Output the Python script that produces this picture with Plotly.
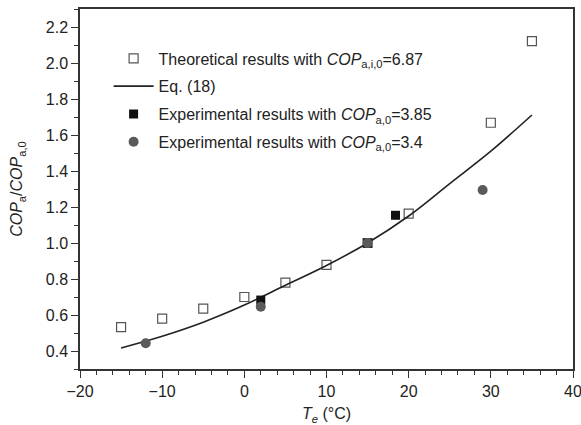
import plotly.graph_objects as go

# Theoretical results (COP_a,i,0 = 6.87)
theo_x = [-15, -10, -5, 0, 5, 10, 15, 20, 30, 35]
theo_y = [0.533, 0.58, 0.635, 0.70, 0.78, 0.878, 1.0, 1.163, 1.668, 2.122]

# Eq. (18) curve
eq_x = [-15, -10, -5, 0, 5, 10, 15, 20, 25, 30, 35]
eq_y = [0.417, 0.482, 0.560, 0.655, 0.765, 0.875, 1.000, 1.150, 1.330, 1.510, 1.711]

# Experimental results (COP_a,0 = 3.85)
exp1_x = [2, 15, 18.4]
exp1_y = [0.683, 1.0, 1.154]

# Experimental results (COP_a,0 = 3.4)
exp2_x = [-12, 2, 15, 29]
exp2_y = [0.443, 0.646, 1.0, 1.294]

x_ticks = [-20, -10, 0, 10, 20, 30, 40]
y_ticks = [0.4, 0.6, 0.8, 1.0, 1.2, 1.4, 1.6, 1.8, 2.0, 2.2]

FONT = "Liberation Sans, Arial, sans-serif"

fig = go.Figure()
fig.add_trace(go.Scatter(
    x=theo_x, y=theo_y, mode="markers", legendgroup="a",
    name="Theoretical results with <i>COP</i><sub>a,i,0</sub>=6.87",
    marker=dict(symbol="square-open", size=9, color="#555555", line=dict(width=1.2)),
))
fig.add_trace(go.Scatter(
    x=eq_x, y=eq_y, mode="lines", legendgroup="b", name="Eq. (18)",
    line=dict(color="#222222", width=1.6, shape="spline"),
))
fig.add_trace(go.Scatter(
    x=exp1_x, y=exp1_y, mode="markers", legendgroup="c",
    name="Experimental results with <i>COP</i><sub>a,0</sub>=3.85",
    marker=dict(symbol="square", size=9, color="#111111"),
))
fig.add_trace(go.Scatter(
    x=exp2_x, y=exp2_y, mode="markers", legendgroup="d",
    name="Experimental results with <i>COP</i><sub>a,0</sub>=3.4",
    marker=dict(symbol="circle", size=10, color="#5a5a5a"),
))

axis_common = dict(
    showline=True, linecolor="#333333", linewidth=1.5, mirror=True,
    ticks="outside", ticklen=7, tickwidth=1.2, tickcolor="#333333",
    showgrid=False, zeroline=False, ticklabeloverflow="allow",
    tickfont=dict(family=FONT, size=16, color="#222222"),
)

fig.update_layout(
    width=581, height=425,
    margin=dict(l=80, r=8, t=9, b=56, autoexpand=False),
    paper_bgcolor="white", plot_bgcolor="white",
    font=dict(family=FONT, size=16, color="#222222"),
    showlegend=True,
    legend=dict(
        x=0.058, y=0.91, xanchor="left", yanchor="top",
        bgcolor="rgba(0,0,0,0)", borderwidth=0,
        font=dict(family=FONT, size=16, color="#222222"),
        tracegroupgap=4, itemwidth=40,
    ),
    xaxis=dict(
        axis_common, range=[-20, 40], tickvals=x_ticks,
        minor=dict(dtick=2, ticks="outside", ticklen=4, tickcolor="#333333", tickwidth=1.2),
        title=dict(text="<i>T</i><sub><i>e</i></sub> (°C)", standoff=9,
                   font=dict(family=FONT, size=16)),
    ),
    yaxis=dict(
        axis_common, range=[0.3, 2.3], tickvals=y_ticks, tickformat=".1f",
        minor=dict(dtick=0.1, ticks="outside", ticklen=4, tickcolor="#333333", tickwidth=1.2),
        title=dict(text="<i>COP</i><sub>a</sub>/<i>COP</i><sub>a,0</sub>", standoff=19,
                   font=dict(family=FONT, size=16)),
    ),
)

fig.write_html(
    "out.html",
    config={"displayModeBar": False},
    post_script="document.body.style.margin='0';document.body.style.overflow='hidden';",
)
